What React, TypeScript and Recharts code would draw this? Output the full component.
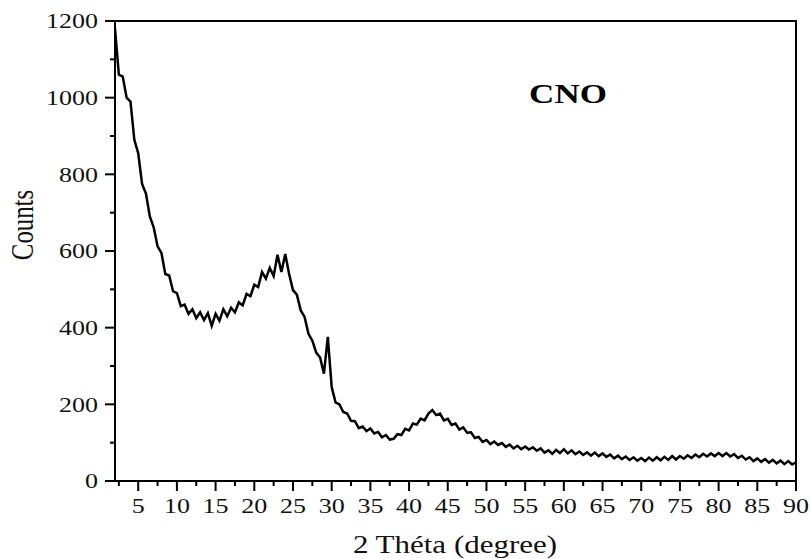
import React from 'react';
import { LineChart, Line, XAxis, YAxis, ReferenceArea } from 'recharts';

// 2-theta scan positions (degree)
const theta = [
  2, 2.5, 3, 3.5, 4, 4.5, 5, 5.5, 6, 6.5,
  7, 7.5, 8, 8.5, 9, 9.5, 10, 10.5, 11, 11.5,
  12, 12.5, 13, 13.5, 14, 14.5, 15, 15.5, 16, 16.5,
  17, 17.5, 18, 18.5, 19, 19.5, 20, 20.5, 21, 21.5,
  22, 22.5, 23, 23.5, 24, 24.5, 25, 25.5, 26, 26.5,
  27, 27.5, 28, 28.5, 29, 29.5, 30, 30.5, 31, 31.5,
  32, 32.5, 33, 33.5, 34, 34.5, 35, 35.5, 36, 36.5,
  37, 37.5, 38, 38.5, 39, 39.5, 40, 40.5, 41, 41.5,
  42, 42.5, 43, 43.5, 44, 44.5, 45, 45.5, 46, 46.5,
  47, 47.5, 48, 48.5, 49, 49.5, 50, 50.5, 51, 51.5,
  52, 52.5, 53, 53.5, 54, 54.5, 55, 55.5, 56, 56.5,
  57, 57.5, 58, 58.5, 59, 59.5, 60, 60.5, 61, 61.5,
  62, 62.5, 63, 63.5, 64, 64.5, 65, 65.5, 66, 66.5,
  67, 67.5, 68, 68.5, 69, 69.5, 70, 70.5, 71, 71.5,
  72, 72.5, 73, 73.5, 74, 74.5, 75, 75.5, 76, 76.5,
  77, 77.5, 78, 78.5, 79, 79.5, 80, 80.5, 81, 81.5,
  82, 82.5, 83, 83.5, 84, 84.5, 85, 85.5, 86, 86.5,
  87, 87.5, 88, 88.5, 89, 89.5, 90,
];

// counts
const counts = [
  1180, 1060, 1055, 1000, 990, 890, 855, 775, 750, 690,
  662, 612, 595, 540, 536, 495, 490, 456, 460, 436,
  448, 425, 440, 420, 438, 405, 436, 418, 448, 430,
  452, 440, 466, 458, 488, 482, 512, 506, 545, 528,
  556, 535, 590, 545, 592, 540, 498, 486, 445, 428,
  384, 366, 335, 322, 280, 376, 245, 205, 200, 180,
  176, 157, 156, 138, 142, 130, 137, 124, 128, 114,
  120, 108, 110, 122, 120, 136, 132, 150, 147, 163,
  158, 176, 185, 172, 176, 158, 162, 146, 150, 134,
  140, 126, 127, 112, 115, 102, 107, 96, 103, 94,
  99, 89, 95, 85, 92, 83, 90, 82, 88, 79,
  85, 74, 80, 71, 81, 73, 83, 72, 80, 70,
  77, 68, 75, 66, 74, 65, 72, 63, 69, 59,
  66, 57, 64, 55, 62, 53, 60, 52, 61, 53,
  62, 54, 63, 55, 65, 56, 65, 58, 67, 60,
  69, 62, 71, 64, 72, 65, 73, 65, 73, 64,
  70, 60, 66, 56, 62, 52, 59, 50, 57, 48,
  55, 46, 53, 44, 52, 43, 49,
];

const xTicks = [
  2.5, 5, 7.5, 10, 12.5, 15, 17.5, 20, 22.5, 25, 27.5, 30, 32.5, 35, 37.5, 40, 42.5, 45,
  47.5, 50, 52.5, 55, 57.5, 60, 62.5, 65, 67.5, 70, 72.5, 75, 77.5, 80, 82.5, 85, 87.5, 90,
];
const yTicks = [0, 100, 200, 300, 400, 500, 600, 700, 800, 900, 1000, 1100, 1200];

const data = theta.map((t, i) => ({ theta: t, counts: counts[i] }));

const FONT = '"Liberation Serif", "Times New Roman", serif';

const XTick = (props: any) => {
  const { x, y, payload } = props;
  const major = payload.value % 5 === 0;
  return (
    <g>
      <line x1={x} y1={y} x2={x} y2={y + (major ? 10 : 5)} stroke="#000" strokeWidth={2} />
      {major && (
        <g transform={`translate(${x},${y + 25}) scale(1,0.8)`}>
          <text x={0} y={0} dy="0.35em" textAnchor="middle" fontFamily={FONT} fontSize={26} fill="#111">
            {payload.value}
          </text>
        </g>
      )}
    </g>
  );
};

const YTick = (props: any) => {
  const { x, y, payload } = props;
  const major = payload.value % 200 === 0;
  return (
    <g>
      <line x1={x} y1={y} x2={x - (major ? 10 : 5)} y2={y} stroke="#000" strokeWidth={2} />
      {major && (
        <g transform={`translate(${x - 17},${y}) scale(1,0.8)`}>
          <text x={0} y={0} dy="0.35em" textAnchor="end" fontFamily={FONT} fontSize={26} fill="#111">
            {payload.value}
          </text>
        </g>
      )}
    </g>
  );
};

export default function App() {
  return (
    <div style={{ position: 'absolute', left: 0, top: 0, width: 811, height: 559, background: '#fff' }}>
      <LineChart width={811} height={559} data={data} margin={{ top: 21, right: 15, left: 0, bottom: 0 }}>
        <XAxis
          dataKey="theta"
          type="number"
          domain={[2, 90]}
          ticks={xTicks}
          interval={0}
          allowDataOverflow
          height={78}
          tickSize={0}
          tickMargin={0}
          tickLine={false}
          tick={<XTick />}
          axisLine={{ stroke: '#000', strokeWidth: 2 }}
        />
        <YAxis
          type="number"
          domain={[0, 1200]}
          ticks={yTicks}
          interval={0}
          width={115}
          tickSize={0}
          tickMargin={0}
          tickLine={false}
          tick={<YTick />}
          axisLine={{ stroke: '#000', strokeWidth: 2 }}
        />
        <ReferenceArea x1={2} x2={90} y1={0} y2={1200} fill="none" stroke="#000" strokeWidth={2} />
        <Line
          type="linear"
          dataKey="counts"
          stroke="#000"
          strokeWidth={2.5}
          dot={false}
          isAnimationActive={false}
        />
        <g transform="translate(568,103) scale(1,0.8)">
          <text x={0} y={0} textAnchor="middle" fontFamily={FONT} fontWeight="bold" fontSize={35} fill="#000">
            CNO
          </text>
        </g>
        <g transform="translate(455,553) scale(1,0.8)">
          <text x={0} y={0} textAnchor="middle" fontFamily={FONT} fontSize={31} fill="#111">
            2 Théta (degree)
          </text>
        </g>
        <g transform="translate(33,225) rotate(-90) scale(0.8,1)">
          <text x={0} y={0} textAnchor="middle" fontFamily={FONT} fontSize={31} fill="#111">
            Counts
          </text>
        </g>
      </LineChart>
    </div>
  );
}
